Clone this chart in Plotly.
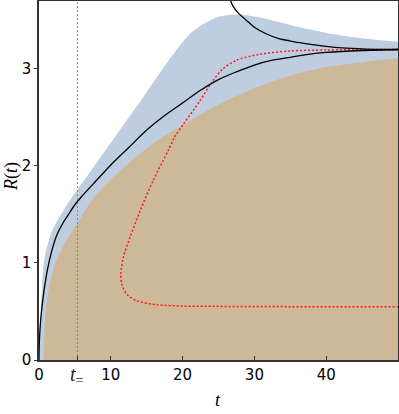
import plotly.graph_objects as go

# ---- data ----
t_eq = 5.36

# upper edge of blue band
blue_t = [0, 0.04, 0.15, 0.32, 0.64, 1.0, 1.67, 2.5, 3.65, 5.0, 7.5, 10.0, 12.5, 15.0, 17.5, 19.6, 21.0,
          22.4, 24.7, 26.5, 28.0, 30.0, 32.0, 36.3, 40.9, 45.6, 50.0]
blue_R = [0, 0.12, 0.36, 0.61, 0.98, 1.13, 1.30, 1.43, 1.57, 1.72, 1.98, 2.24, 2.50, 2.76, 3.03, 3.24, 3.36,
          3.44, 3.53, 3.555, 3.56, 3.54, 3.51, 3.43, 3.36, 3.31, 3.28]

# upper edge of tan region
tan_t = [0.65, 0.7, 0.8, 1.1, 1.6, 2.3, 3.5, 5.0, 7.6, 10.0, 12.5, 15.0, 17.5, 20.0, 22.5, 25.0, 27.5,
         30.0, 32.5, 35.0, 37.5, 40.0, 45.0, 50.0]
tan_R = [0, 0.15, 0.35, 0.61, 0.82, 1.0, 1.19, 1.37, 1.67, 1.86, 2.03, 2.18, 2.31, 2.42, 2.53, 2.63, 2.72,
         2.80, 2.87, 2.93, 2.98, 3.02, 3.07, 3.11]

# lower black curve
black1_t = [0, 0.05, 0.2, 0.55, 0.85, 1.2, 1.8, 2.5, 3.4, 4.2, 5.0, 6.0, 7.5, 10.0, 12.5, 15.0, 17.5, 20.0,
            22.5, 25.0, 27.5, 30.0, 32.5, 35.0, 37.5, 40.0, 45.0, 50.0]
black1_R = [0, 0.19, 0.38, 0.63, 0.79, 0.94, 1.13, 1.29, 1.42, 1.51, 1.60, 1.69, 1.81, 2.01, 2.19, 2.37, 2.52,
            2.65, 2.78, 2.89, 2.97, 3.04, 3.09, 3.12, 3.15, 3.17, 3.19, 3.2]

# upper black curve (coming from above)
black2_t = [26.5, 26.7, 27.0, 27.7, 28.9, 30.0, 31.7, 33.5, 34.9, 36.3, 38.1, 40.9, 42.8, 45.6, 50.0]
black2_R = [3.75, 3.70, 3.65, 3.58, 3.50, 3.43, 3.36, 3.31, 3.29, 3.27, 3.25, 3.225, 3.215, 3.205, 3.2]

# red dotted curve
red_t = [50.0, 45.0, 40.0, 34.9, 30.7, 27.5, 25.6, 24.25, 22.4, 20.1, 18.9, 18.0, 15.9, 14.1, 12.7, 11.75,
         11.4, 11.5, 12.2, 13.6, 16.4, 20.1, 24.7, 35.0, 50.0]
red_R = [3.2, 3.2, 3.195, 3.185, 3.15, 3.09, 3.0, 2.88, 2.67, 2.43, 2.30, 2.16, 1.85, 1.54, 1.27, 1.06,
         0.89, 0.79, 0.68, 0.61, 0.57, 0.556, 0.553, 0.55, 0.548]

x_ticks = [0, t_eq, 10, 20, 30, 40]
x_ticktext = ["0", "", "10", "20", "30", "40"]
y_ticks = [0, 1, 2, 3]

BLUE = "#bfcde0"
TAN = "#cdb897"
SM = 0.8

fig = go.Figure()
fig.add_trace(go.Scatter(x=blue_t, y=blue_R, mode="lines", line=dict(width=0, shape="spline", smoothing=SM),
                         fill="tozeroy", fillcolor=BLUE, hoverinfo="skip"))
fig.add_trace(go.Scatter(x=tan_t, y=tan_R, mode="lines", line=dict(width=0, shape="spline", smoothing=SM),
                         fill="tozeroy", fillcolor=TAN, hoverinfo="skip"))
fig.add_trace(go.Scatter(x=[t_eq, t_eq], y=[0, 3.7], mode="lines",
                         line=dict(color="#888888", width=1, dash="2px,2px")))
fig.add_trace(go.Scatter(x=red_t, y=red_R, mode="lines",
                         line=dict(color="#ff1a1a", width=1.5, dash="2px,2px", shape="spline", smoothing=SM)))
fig.add_trace(go.Scatter(x=black1_t, y=black1_R, mode="lines",
                         line=dict(color="black", width=1.3, shape="spline", smoothing=SM)))
fig.add_trace(go.Scatter(x=black2_t, y=black2_R, mode="lines",
                         line=dict(color="black", width=1.3, shape="spline", smoothing=SM)))

fig.update_layout(
    width=399, height=414,
    margin=dict(l=39, r=1, t=1, b=54),
    plot_bgcolor="white", paper_bgcolor="white",
    showlegend=False,
    font=dict(family="DejaVu Sans", size=15, color="black"),
    xaxis=dict(range=[0, 50], tickvals=x_ticks, ticktext=x_ticktext, ticks="inside", ticklen=4,
               tickcolor="#333", showgrid=False, zeroline=False, showline=True, linecolor="#333",
               linewidth=1.5, mirror=True, automargin=False),
    yaxis=dict(range=[0, 3.7], tickvals=y_ticks, ticks="outside", ticklen=3, tickcolor="#333",
               showgrid=False, zeroline=False, showline=True, linecolor="#333", linewidth=1.5, mirror=True,
               automargin=False),
)
fig.add_annotation(text="<i>t</i><sub>=</sub>", xref="x", yref="paper", x=t_eq, y=0, yanchor="middle",
                   yshift=-15, showarrow=False, font=dict(family="Liberation Serif", size=20, color="#222"))
fig.add_annotation(text="<i>t</i>", xref="paper", yref="paper", x=0.4986, y=-0.111, yanchor="middle",
                   showarrow=False, font=dict(family="Liberation Serif", size=18))
fig.add_annotation(text="<i>R</i>(<i>t</i>)", xref="paper", yref="paper", x=-0.075, y=0.51, textangle=-90,
                   xanchor="center", yanchor="middle", showarrow=False,
                   font=dict(family="Liberation Serif", size=18))

fig.write_html("out.html", config={"displayModeBar": False},
               post_script="document.body.style.margin='0px';document.body.style.overflow='hidden';")
